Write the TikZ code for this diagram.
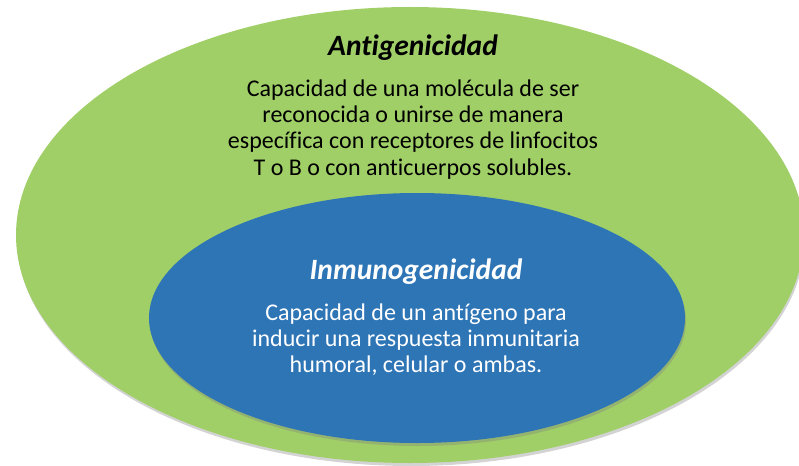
\documentclass[tikz,border=0pt]{standalone}
\usepackage{fontspec}
\setmainfont{Carlito}[Ligatures=NoCommon]
\usetikzlibrary{positioning,shapes.geometric,shadows}
\definecolor{antigreen}{HTML}{A0CF67}
\definecolor{inmublue}{HTML}{2E75B6}

\begin{document}
\begin{tikzpicture}[x=1pt,y=-1pt,
  oval/.style={ellipse,inner sep=0pt,drop shadow={shadow xshift=1pt,shadow yshift=-3pt,opacity=0.35}},
  head/.style={font=\fontsize{29.5}{34}\selectfont\bfseries\itshape},
  txt/.style={align=center,font=\fontsize{24}{26.2}\selectfont}]
  \useasboundingbox (0,0) rectangle (799,465);
  \node[oval,fill=antigreen,minimum width=788pt,minimum height=456pt](outer)at(410,235){};
  \node[oval,fill=inmublue,minimum width=536pt,minimum height=250pt](inner)at(417,318){};
  \node[head](anti)at(413,48){Antigenicidad};
  \node[txt,below=12pt of anti](antitxt){Capacidad de una molécula de ser\\reconocida o unirse de manera\\
     específica con receptores de linfocitos\\T o B o con anticuerpos solubles.};
  \node[head,text=white](inmu)at(416,272){Inmunogenicidad};
  \node[txt,text=white,below=12pt of inmu](inmutxt){Capacidad de un antígeno para\\inducir una respuesta inmunitaria\\
     humoral, celular o ambas.};
\end{tikzpicture}
\end{document}
